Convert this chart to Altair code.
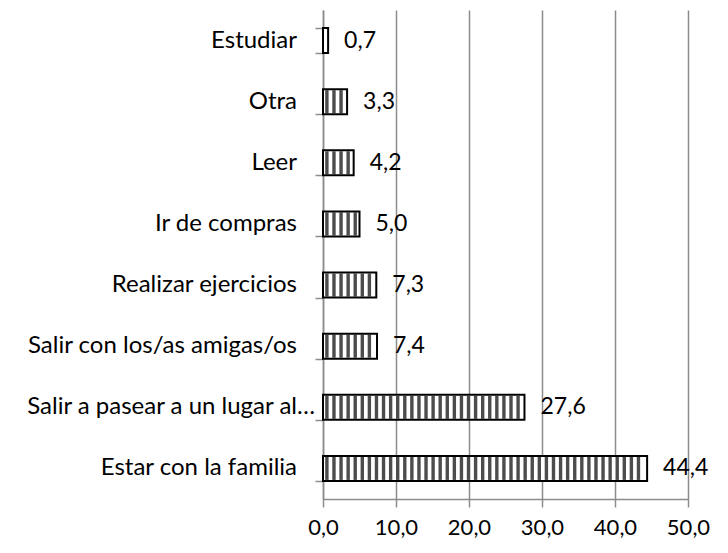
import altair as alt
import pandas as pd
import numpy as np

categories = [
    "Estudiar",
    "Otra",
    "Leer",
    "Ir de compras",
    "Realizar ejercicios",
    "Salir con los/as amigas/os",
    "Salir a pasear a un lugar al…",
    "Estar con la familia",
]
values = [0.7, 3.3, 4.2, 5.0, 7.3, 7.4, 27.6, 44.4]
value_labels = ["0,7", "3,3", "4,2", "5,0", "7,3", "7,4", "27,6", "44,4"]
x_ticks = [0, 10, 20, 30, 40, 50]

df = pd.DataFrame({"cat": categories, "val": values, "lbl": value_labels})

# hatch pattern (decorative vertical stripes inside each bar)
period = 0.97
rows = []
for c, v in zip(categories, values):
    for p in np.arange(period * 0.55, v - 0.25, period):
        rows.append({"cat": c, "pos": float(p)})
stripes = pd.DataFrame(rows)

FONT = "Lato"
FS = 23
GRAY = "#8c8c8c"

y_scale = alt.Scale(paddingInner=0.59, paddingOuter=0.295)
y_enc = alt.Y(
    "cat:N",
    sort=categories,
    scale=y_scale,
    axis=alt.Axis(
        title=None,
        tickBand="extent",
        grid=False,
        labels=False,
        domainColor=GRAY,
        domainWidth=1.5,
        tickColor=GRAY,
        tickWidth=1.5,
        tickSize=8,
    ),
)

x_scale = alt.Scale(domain=[0, 50], nice=False)
x_enc = alt.X(
    "val:Q",
    scale=x_scale,
    axis=alt.Axis(
        title=None,
        values=x_ticks,
        labelExpr="replace(format(datum.value, '.1f'), '.', ',')",
        labelFlush=False,
        labelOverlap=False,
        grid=True,
        gridColor=GRAY,
        gridWidth=1.5,
        domainColor=GRAY,
        domainWidth=1.5,
        tickColor=GRAY,
        tickWidth=1.5,
        tickSize=8,
        labelPadding=10,
        labelFont=FONT,
        labelFontSize=22,
        labelColor="#000000",
    ),
)

bars = alt.Chart(df).mark_bar(
    fill="white", stroke="black", strokeWidth=2
).encode(x=x_enc, y=y_enc)

hatch = alt.Chart(stripes).mark_tick(
    color="black", thickness=3.4, orient="vertical", size=23
).encode(
    x=alt.X("pos:Q", scale=x_scale),
    y=alt.Y("cat:N", sort=categories),
)

labels = alt.Chart(df).mark_text(
    align="left", baseline="middle", dx=16, font=FONT, fontSize=FS, color="#000000"
).encode(
    x=alt.X("val:Q", scale=x_scale),
    y=alt.Y("cat:N", sort=categories),
    text="lbl:N",
)

is_trunc = "indexof(datum.cat, '…') >= 0"

cat_labels = alt.Chart(df).transform_filter(f"!({is_trunc})").mark_text(
    align="right", baseline="middle", dx=-26, font=FONT, fontSize=24, color="#000000"
).encode(
    x=alt.value(0),
    y=alt.Y("cat:N", sort=categories),
    text="cat:N",
)

cat_labels_trunc = alt.Chart(df).transform_filter(is_trunc).mark_text(
    align="right", baseline="middle", dx=-8, font=FONT, fontSize=24, color="#000000"
).encode(
    x=alt.value(0),
    y=alt.Y("cat:N", sort=categories),
    text="cat:N",
)

chart = (
    alt.layer(bars, hatch, labels, cat_labels, cat_labels_trunc)
    .properties(
        width=365,
        height=489,
        autosize=alt.AutoSizeParams(type="none"),
        padding={"left": 315, "top": 2, "right": 32, "bottom": 46},
    )
    .configure_view(stroke=None)
)

chart.save("out.html", embed_options={"renderer": "svg", "actions": False})
